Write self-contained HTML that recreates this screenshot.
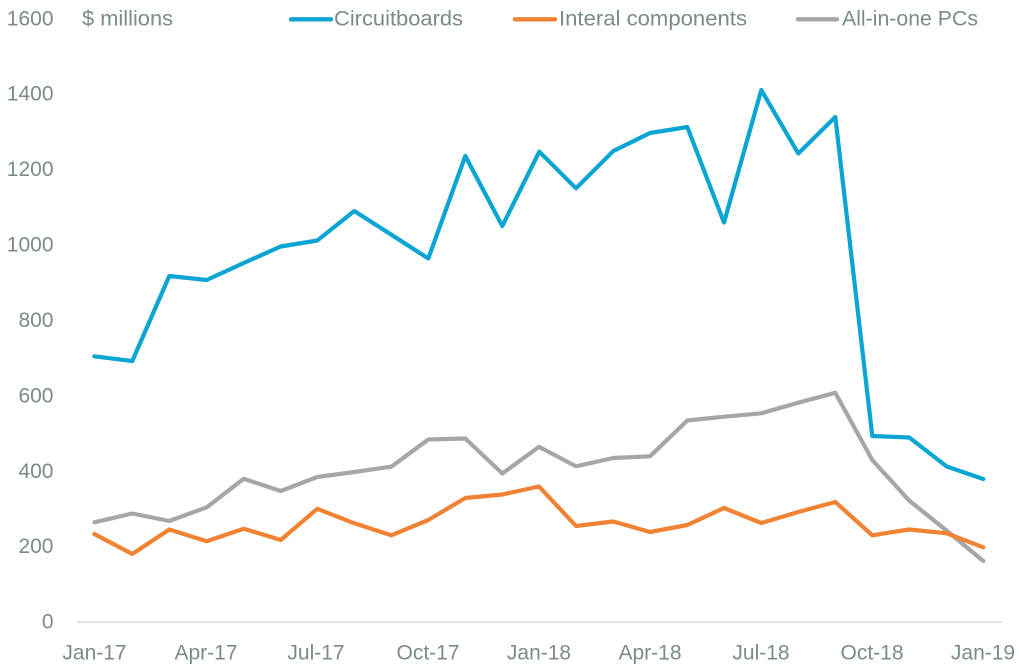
<!DOCTYPE html>
<html>
<head>
<meta charset="utf-8">
<style>
  html, body { margin: 0; padding: 0; background: #ffffff; }
  svg { display: block; }
  text { font-family: "Liberation Sans", "DejaVu Sans", sans-serif; fill: #7b8a8b; }
</style>
</head>
<body>
<svg width="1019" height="668" viewBox="0 0 1019 668" xmlns="http://www.w3.org/2000/svg">
  <rect width="1019" height="668" fill="#ffffff"/>

  <!-- Y axis labels -->
  <g font-size="21" text-anchor="end">
    <text x="53.5" y="25.5">1600</text>
    <text x="53.5" y="100.5">1400</text>
    <text x="53.5" y="176">1200</text>
    <text x="53.5" y="251.5">1000</text>
    <text x="53.5" y="327">800</text>
    <text x="53.5" y="402.5">600</text>
    <text x="53.5" y="478">400</text>
    <text x="53.5" y="553">200</text>
    <text x="53.5" y="628.5">0</text>
  </g>

  <!-- unit label -->
  <text x="82" y="25.5" font-size="21" textLength="91" lengthAdjust="spacingAndGlyphs">$ millions</text>

  <!-- Legend -->
  <line x1="291" y1="19.3" x2="331" y2="19.3" stroke="#0ba5d3" stroke-width="4.3" stroke-linecap="round"/>
  <text x="334" y="25.5" font-size="21" textLength="129" lengthAdjust="spacingAndGlyphs">Circuitboards</text>
  <line x1="515" y1="19.3" x2="555" y2="19.3" stroke="#f08233" stroke-width="4.3" stroke-linecap="round"/>
  <text x="559" y="25.5" font-size="21" textLength="188" lengthAdjust="spacingAndGlyphs">Interal components</text>
  <line x1="798" y1="19.3" x2="837" y2="19.3" stroke="#a6a6a6" stroke-width="4.3" stroke-linecap="round"/>
  <text x="842" y="25.5" font-size="21" textLength="136" lengthAdjust="spacingAndGlyphs">All-in-one PCs</text>

  <!-- X axis line -->
  <line x1="77" y1="622" x2="1002" y2="622" stroke="#d9d9d9" stroke-width="1.6"/>

  <!-- X axis labels -->
  <g font-size="21" text-anchor="middle">
    <text x="94.5" y="659.5">Jan-17</text>
    <text x="206" y="659.5">Apr-17</text>
    <text x="316" y="659.5">Jul-17</text>
    <text x="428" y="659.5">Oct-17</text>
    <text x="539" y="659.5">Jan-18</text>
    <text x="650" y="659.5">Apr-18</text>
    <text x="761" y="659.5">Jul-18</text>
    <text x="872" y="659.5">Oct-18</text>
    <text x="983" y="659.5">Jan-19</text>
  </g>

  <!-- All-in-one PCs -->
  <polyline fill="none" stroke="#a6a6a6" stroke-width="4.2" stroke-linejoin="round" stroke-linecap="round"
    points="94.3,522.3 132.3,513.5 169.3,521 206.7,507.3 243.7,478.8 280.7,491 317.3,477 354.3,472 391.3,466.7 428.3,439.5 465.3,438.5 502.3,473.5 539,446.8 576,466.3 613.3,458 650,456.3 687.3,420.5 724,416.7 761.3,413.3 798.3,402.7 835.3,392.8 872.3,460 909.3,500.7 946.7,530.7 983.3,561"/>

  <!-- Interal components -->
  <polyline fill="none" stroke="#f08233" stroke-width="4.2" stroke-linejoin="round" stroke-linecap="round"
    points="94.3,534 132.3,554 169.3,529.5 206.7,541.3 243.7,528.7 280.7,540 317.3,508.8 354.3,523.3 391.3,535.3 428.3,520 465.3,498 502.3,494.5 539,486.5 576,526 613.3,521.5 650,532 687.3,525 724,508 761.3,523 798.3,512 835.3,502 872.3,535.3 909.3,529.5 946.7,533.3 983.3,547.3"/>

  <!-- Circuitboards -->
  <polyline fill="none" stroke="#0ba5d3" stroke-width="4.2" stroke-linejoin="round" stroke-linecap="round"
    points="94.3,356.3 132.3,361 169.3,276 206.7,280 243.7,263 280.7,246.5 317.3,240.5 354.3,211 391.3,234.7 428.3,258.5 465.3,156 502.3,226 539.3,151.7 576,188.3 613.3,151 650,133 687.3,127 724,222.5 761.3,90 798.3,153.5 835.3,117 872.3,436 909.3,437.5 946.7,466.5 983.3,479"/>
</svg>
</body>
</html>
